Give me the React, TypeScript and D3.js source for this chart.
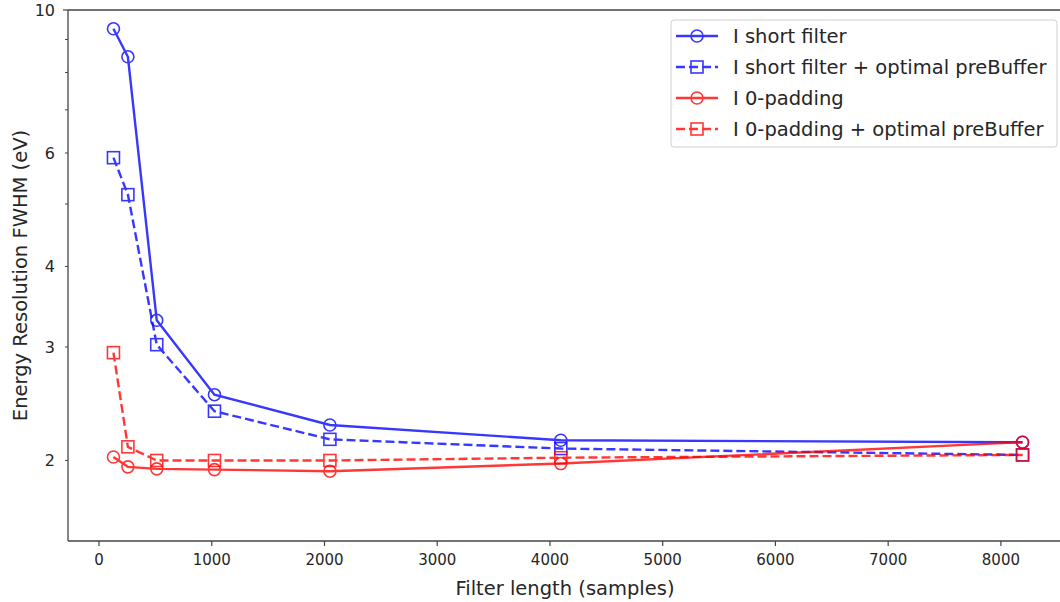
import React from "react";
import * as d3 from "d3";

const filterLengths = [128, 256, 512, 1024, 2048, 4096, 8192];
const shortFilter = [9.35, 8.46, 3.3, 2.53, 2.27, 2.15, 2.135];
const shortFilterPre = [5.9, 5.17, 3.025, 2.385, 2.157, 2.087, 2.04];
const zeroPad = [2.025, 1.955, 1.941, 1.936, 1.925, 1.978, 2.135];
const zeroPadPre = [2.94, 2.1, 2.0, 2.0, 2.0, 2.02, 2.04];

const seriesNames = [
  "I short filter",
  "I short filter + optimal preBuffer",
  "I 0-padding",
  "I 0-padding + optimal preBuffer",
];
const seriesValues = [shortFilter, shortFilterPre, zeroPad, zeroPadPre];
const seriesColors = ["#0000ff", "#0000ff", "#ff0000", "#ff0000"];
const seriesDashed = [false, true, false, true];
const seriesMarker = ["circle", "square", "circle", "square"];

const xTicks = [0, 1000, 2000, 3000, 4000, 5000, 6000, 7000, 8000];
const yMajorTicks = [10];
const yMinorTicks = [2, 3, 4, 5, 6, 7, 8, 9];
const yLabeled = [2, 3, 4, 6, 10];

const W = 1060;
const H = 602;
const left = 68;
const top = 10;
const bottom = 541;

export default function App() {
  const x = d3.scaleLinear().domain([-275.2, 8595.2]).range([left, 1068]);
  const y = d3.scaleLog().domain([1.5, 10]).range([bottom, top]);
  const line = d3
    .line<number>()
    .x((_, i) => x(filterLengths[i]))
    .y((d) => y(d));
  const font = "DejaVu Sans, sans-serif";
  const axisColor = "#444";
  const alpha = 0.78;
  const labelSize = 19.5;

  const marker = (type: string, cx: number, cy: number, color: string, key: any) =>
    type === "circle" ? (
      <circle key={key} cx={cx} cy={cy} r={6} fill="none" stroke={color} strokeWidth={1.6} />
    ) : (
      <rect key={key} x={cx - 6} y={cy - 6} width={12} height={12} fill="none" stroke={color} strokeWidth={1.6} />
    );

  return (
    <svg
      width={W}
      height={H}
      style={{ position: "absolute", left: 0, top: 0, background: "#fff" }}
      fontFamily={font}
    >
      <rect x={0} y={0} width={W} height={H} fill="#fff" />
      <defs>
        <clipPath id="plot">
          <rect x={left} y={top} width={W - left} height={bottom - top} />
        </clipPath>
      </defs>

      {/* series */}
      <g clipPath="url(#plot)">
        {seriesValues.map((vals, s) => (
          <g key={s} opacity={alpha}>
            <path
              d={line(vals) || ""}
              fill="none"
              stroke={seriesColors[s]}
              strokeWidth={2.4}
              strokeDasharray={seriesDashed[s] ? "9,4" : undefined}
            />
            {vals.map((v, i) => marker(seriesMarker[s], x(filterLengths[i]), y(v), seriesColors[s], i))}
          </g>
        ))}
      </g>

      {/* spines */}
      <line x1={left} x2={left} y1={top} y2={bottom} stroke={axisColor} strokeWidth={1.3} />
      <line x1={left} x2={W} y1={bottom} y2={bottom} stroke={axisColor} strokeWidth={1.3} />
      <line x1={left} x2={W} y1={top} y2={top} stroke={axisColor} strokeWidth={1.3} />

      {/* x ticks */}
      {xTicks.map((t) => (
        <g key={t}>
          <line x1={x(t)} x2={x(t)} y1={bottom} y2={bottom + 5} stroke={axisColor} strokeWidth={1.2} />
          <text x={x(t)} y={bottom + 24} textAnchor="middle" fontSize={15} fill="#262626">
            {t}
          </text>
        </g>
      ))}

      {/* y ticks */}
      {yMajorTicks.map((t) => (
        <line key={"M" + t} x1={left - 5} x2={left} y1={y(t)} y2={y(t)} stroke={axisColor} strokeWidth={1.2} />
      ))}
      {yMinorTicks.map((t) => (
        <line key={"m" + t} x1={left - 3} x2={left} y1={y(t)} y2={y(t)} stroke={axisColor} strokeWidth={1} />
      ))}
      {yLabeled.map((t) => (
        <text key={"l" + t} x={left - 13} y={y(t) + 6} textAnchor="end" fontSize={16} fill="#262626">
          {t}
        </text>
      ))}

      {/* axis labels */}
      <text x={565} y={595} textAnchor="middle" fontSize={labelSize} fill="#262626">
        Filter length (samples)
      </text>
      <text
        transform={`translate(27, ${(top + bottom) / 2}) rotate(-90)`}
        textAnchor="middle"
        fontSize={labelSize}
        fill="#262626"
      >
        Energy Resolution FWHM (eV)
      </text>

      {/* legend */}
      <rect x={671} y={20} width={386} height={127} rx={3} fill="#fff" fillOpacity={0.8} stroke="#d0d0d0" strokeWidth={1} />
      {seriesNames.map((name, s) => {
        const ly = 36 + s * 31;
        return (
          <g key={name}>
            <g opacity={alpha}>
              <line
                x1={676}
                x2={718}
                y1={ly}
                y2={ly}
                stroke={seriesColors[s]}
                strokeWidth={2.4}
                strokeDasharray={seriesDashed[s] ? "9,4" : undefined}
              />
              {marker(seriesMarker[s], 697, ly, seriesColors[s], "m")}
            </g>
            <text x={733} y={ly + 7} fontSize={labelSize} fill="#262626">
              {name}
            </text>
          </g>
        );
      })}
    </svg>
  );
}
